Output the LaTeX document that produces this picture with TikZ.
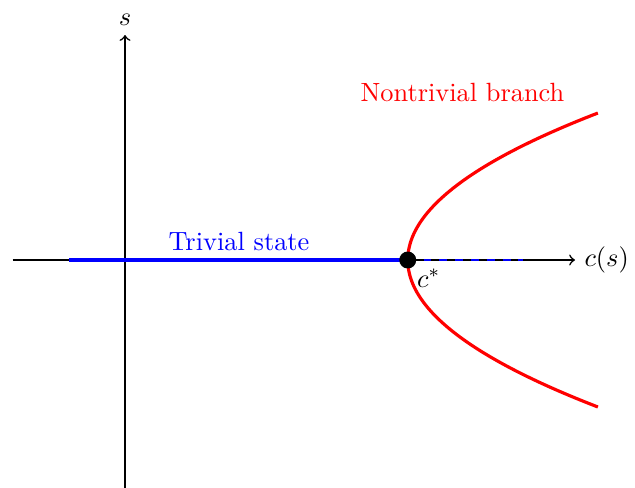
\documentclass[tikz,border=0pt]{standalone}

\begin{document}
\begin{tikzpicture}
  \useasboundingbox (-1.667,-3.027) rectangle (6.8,3.467);
  % axes
  \coordinate (xl) at (-1.5,0);
  \coordinate (xr) at (6,0);
  \coordinate (yb) at (0,-3.1);
  \coordinate (yt) at (0,3);
  \draw[semithick,->] (xl) -- (xr) node[right] (cs) {$c(s)$};
  \draw[semithick,->] (yb) -- (yt) node[above] (s) {$s$};
  % branches
  \coordinate (c) at (3.77,0);
  \coordinate (tl) at (-0.75,0);
  \coordinate (dr) at (5.3,0);
  \draw[blue,very thick] (tl) -- (c);
  \node[blue,above] (triv) at (1.52,0) {Trivial state};
  \draw[blue,thick,dashed] (c) -- (dr);
  \draw[red,very thick,domain=-1.96:1.96,samples=60,smooth] plot ({3.77+0.66*\x*\x},\x);
  \node[red] (nontriv) at (4.5,2.24) {Nontrivial branch};
  \fill (c) circle (0.113);
  \node[below right] (cstar) at (c) {$c^*$};
\end{tikzpicture}
\end{document}
